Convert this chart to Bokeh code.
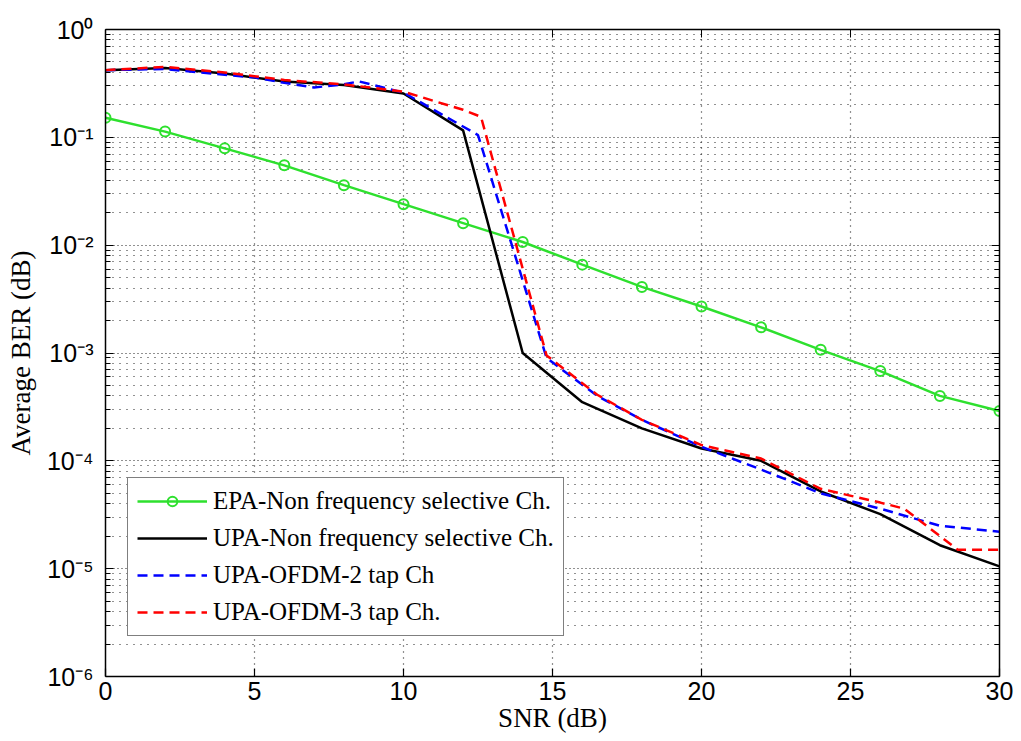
from bokeh.plotting import figure
from bokeh.models import (Range1d, FixedTicker, LogAxis, LinearAxis,
                          CustomJSTickFormatter, Legend, LegendItem)
from bokeh.embed import file_html
from bokeh.resources import INLINE

# ---------------- data ----------------
snr_epa = [0, 2, 4, 6, 8, 10, 12, 14, 16, 18, 20, 22, 24, 26, 28, 30]
ber_epa = [0.152, 0.113, 0.079, 0.055, 0.036, 0.024, 0.016, 0.0107, 0.0066,
           0.0041, 0.0027, 0.00173, 0.00107, 0.00068, 0.00040, 0.00029]

snr_upa = [0, 2, 4, 6, 8, 10, 12, 14, 16, 18, 20, 22, 24, 26, 28, 30]
ber_upa = [0.42, 0.44, 0.39, 0.33, 0.305, 0.255, 0.116, 1.0e-3, 3.5e-4,
           2.0e-4, 1.3e-4, 1.0e-4, 5.2e-5, 3.2e-5, 1.65e-5, 1.05e-5]

snr_ofdm2 = [0, 2, 4, 5, 6, 7, 8, 8.5, 10, 12.5, 14.8, 16.5, 18, 20, 22, 24,
             26, 28, 30]
ber_ofdm2 = [0.42, 0.43, 0.38, 0.36, 0.32, 0.29, 0.31, 0.33, 0.26, 0.105,
             9.0e-4, 4.0e-4, 2.4e-4, 1.35e-4, 8.3e-5, 5.0e-5, 3.6e-5, 2.5e-5,
             2.2e-5]

snr_ofdm3 = [0, 2, 4, 6, 8, 10, 12, 12.6, 14.8, 16.5, 18, 20, 22, 24, 26,
             26.8, 28.6, 30]
ber_ofdm3 = [0.42, 0.45, 0.40, 0.34, 0.31, 0.265, 0.18, 0.155, 9.5e-4,
             4.1e-4, 2.4e-4, 1.4e-4, 1.05e-4, 5.5e-5, 4.1e-5, 3.6e-5, 1.5e-5,
             1.5e-5]

x_ticks = [0, 5, 10, 15, 20, 25, 30]
y_ticks = [1e-6, 1e-5, 1e-4, 1e-3, 1e-2, 1e-1, 1]
y_tick_labels = ["10\u207b\u2076", "10\u207b\u2075", "10\u207b\u2074",
                 "10\u207b\u00b3", "10\u207b\u00b2", "10\u207b\u00b9",
                 "10\u2070"]

series_names = ["EPA-Non frequency selective Ch.",
                "UPA-Non frequency selective Ch.",
                "UPA-OFDM-2 tap Ch",
                "UPA-OFDM-3 tap Ch."]

# ---------------- figure ----------------
p = figure(width=1021, height=741,
           x_range=Range1d(0, 30), y_range=Range1d(1e-6, 1),
           y_axis_type="log",
           output_backend="svg", toolbar_location=None,
           min_border_left=105, min_border_right=22,
           min_border_top=29, min_border_bottom=65,
           background_fill_color="white", border_fill_color="white")
p.outline_line_color = None

minor_y = [m * t for t in y_ticks[:-1] for m in range(2, 10)]
xticker = FixedTicker(ticks=x_ticks)
yticker = FixedTicker(ticks=y_ticks, minor_ticks=minor_y)

fmt = CustomJSTickFormatter(args=dict(labels=y_tick_labels),
                            code="return labels[Math.round(Math.log10(tick)) + 6];")

tick_font = "Liberation Sans"
label_font = "Liberation Serif"

# bottom axis
xa = p.xaxis[0]
xa.ticker = xticker
xa.axis_label = "SNR (dB)"
# left axis
ya = p.yaxis[0]
ya.ticker = yticker
ya.formatter = fmt
ya.axis_label = "Average BER (dB)"

for ax in (xa, ya):
    ax.axis_line_color = "black"
    ax.axis_line_width = 1.5
    ax.major_tick_in = 8
    ax.major_tick_out = 0
    ax.major_tick_line_color = "black"
    ax.major_tick_line_width = 1.2
    ax.major_label_text_font = tick_font
    ax.major_label_text_font_size = "25px"
    ax.major_label_text_color = "black"
    ax.axis_label_text_font = label_font
    ax.axis_label_text_font_size = "27px"
    ax.axis_label_text_font_style = "normal"
    ax.axis_label_text_color = "black"
xa.minor_tick_line_color = None
xa.major_label_standoff = 5
xa.axis_label_standoff = 0
ya.minor_tick_in = 5
ya.minor_tick_out = 0
ya.minor_tick_line_color = "black"
ya.major_label_standoff = 12
ya.axis_label_standoff = 8

# box: right and top axes with ticks only (labels not drawn)
ra = LogAxis(ticker=yticker, formatter=fmt, major_label_text_color=None,
             major_tick_in=8, major_tick_out=0, minor_tick_in=5, minor_tick_out=0,
             axis_line_color="black", axis_line_width=1.5,
             major_tick_line_color="black", minor_tick_line_color="black")
p.add_layout(ra, "right")
ta = LinearAxis(ticker=xticker, major_label_text_color=None,
                major_tick_in=8, major_tick_out=0, minor_tick_line_color=None,
                axis_line_color="black", axis_line_width=1.5,
                major_tick_line_color="black")
p.add_layout(ta, "above")

# grid
p.xgrid.ticker = xticker
p.ygrid.ticker = yticker
p.xgrid.grid_line_color = "#222222"
p.xgrid.grid_line_dash = "1 5"
p.xgrid.grid_line_width = 1.2
p.ygrid.grid_line_color = "#222222"
p.ygrid.grid_line_dash = "1 3"
p.ygrid.grid_line_width = 1.2
p.ygrid.minor_grid_line_color = "#222222"
p.ygrid.minor_grid_line_dash = "1 6"
p.ygrid.minor_grid_line_width = 1.2

# ---------------- series ----------------
green = "#2ee02e"
r_epa = p.line(snr_epa, ber_epa, line_color=green, line_width=2.5)
r_epa_m = p.scatter(snr_epa, ber_epa, marker="circle", size=10,
                    line_color=green, line_width=2, fill_color=None)
r_upa = p.line(snr_upa, ber_upa, line_color="black", line_width=2.5)
r_o2 = p.line(snr_ofdm2, ber_ofdm2, line_color="#0000ff", line_width=2.5,
              line_dash="10 6")
r_o3 = p.line(snr_ofdm3, ber_ofdm3, line_color="#ff0000", line_width=2.5,
              line_dash="10 6")

legend = Legend(items=[
    LegendItem(label=series_names[0], renderers=[r_epa, r_epa_m]),
    LegendItem(label=series_names[1], renderers=[r_upa]),
    LegendItem(label=series_names[2], renderers=[r_o2]),
    LegendItem(label=series_names[3], renderers=[r_o3]),
], location=(22, 40))
legend.margin = 0
legend.padding = 9
legend.spacing = 9
legend.glyph_width = 70
legend.glyph_height = 24
legend.label_height = 24
legend.label_standoff = 6
legend.label_text_font = label_font
legend.label_text_font_size = "25px"
legend.label_text_color = "black"
legend.border_line_color = "black"
legend.border_line_width = 1.5
legend.background_fill_color = "white"
legend.background_fill_alpha = 1.0
p.add_layout(legend)

open("out.html", "w").write(file_html(p, INLINE))
